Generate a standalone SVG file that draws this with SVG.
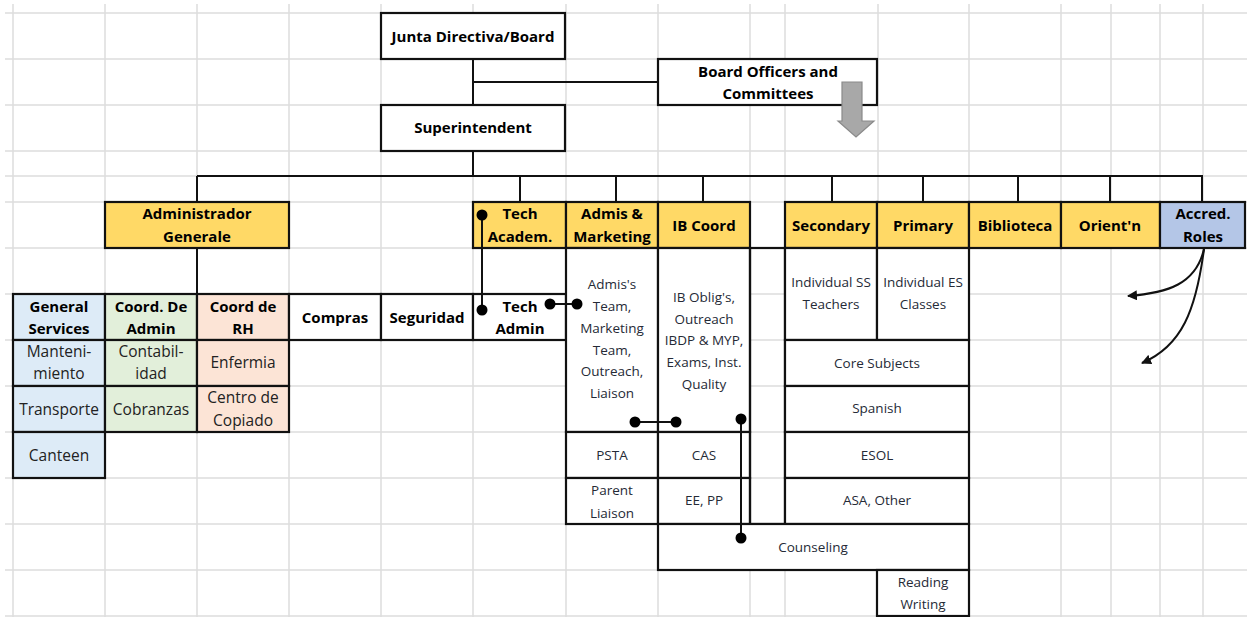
<svg xmlns="http://www.w3.org/2000/svg" width="1247" height="617" viewBox="0 0 1247 617">
<defs>
<style>
.grid line{stroke:#dcdcdc;stroke-width:1.5}
.box{stroke:#111;stroke-width:2.2}
.w{fill:#fff}
.y{fill:#FFD966}
.ab{fill:#B4C6E7}
.lb{fill:#DDEBF7}
.lg{fill:#E2EFDA}
.pe{fill:#FCE4D6}
.b{font-family:"Open Sans","Liberation Sans",sans-serif;font-weight:bold;font-size:15px;fill:#000;text-anchor:middle}
.r{font-family:"Open Sans","Liberation Sans",sans-serif;font-size:13.5px;fill:#252a36;text-anchor:middle}
.rl{font-family:"Open Sans","Liberation Sans",sans-serif;font-size:15.5px;fill:#222;text-anchor:middle}
.conn line,.conn path{stroke:#111;stroke-width:2;fill:none}
.dot{fill:#000}
</style>
<marker id="ah" viewBox="0 0 10 10" refX="9" refY="5" markerWidth="5" markerHeight="5" orient="auto">
<path d="M0,0 L10,5 L0,10 z" fill="#111"/>
</marker>
</defs>
<rect width="1247" height="617" fill="#fff"/>
<g class="grid">
<line x1="13" y1="4" x2="13" y2="617"/>
<line x1="105" y1="4" x2="105" y2="617"/>
<line x1="197" y1="4" x2="197" y2="617"/>
<line x1="289" y1="4" x2="289" y2="617"/>
<line x1="381" y1="4" x2="381" y2="617"/>
<line x1="473" y1="4" x2="473" y2="617"/>
<line x1="566" y1="4" x2="566" y2="617"/>
<line x1="658" y1="4" x2="658" y2="617"/>
<line x1="750" y1="4" x2="750" y2="617"/>
<line x1="785" y1="4" x2="785" y2="617"/>
<line x1="878" y1="4" x2="878" y2="617"/>
<line x1="969" y1="4" x2="969" y2="617"/>
<line x1="1061" y1="4" x2="1061" y2="617"/>
<line x1="1111" y1="4" x2="1111" y2="617"/>
<line x1="1160" y1="4" x2="1160" y2="617"/>
<line x1="1203" y1="4" x2="1203" y2="617"/>
<line x1="5" y1="13" x2="1247" y2="13"/>
<line x1="5" y1="59" x2="1247" y2="59"/>
<line x1="5" y1="105" x2="1247" y2="105"/>
<line x1="5" y1="151" x2="1247" y2="151"/>
<line x1="5" y1="176" x2="1247" y2="176"/>
<line x1="5" y1="202" x2="1247" y2="202"/>
<line x1="5" y1="248" x2="1247" y2="248"/>
<line x1="5" y1="294" x2="1247" y2="294"/>
<line x1="5" y1="340" x2="1247" y2="340"/>
<line x1="5" y1="386" x2="1247" y2="386"/>
<line x1="5" y1="432" x2="1247" y2="432"/>
<line x1="5" y1="478" x2="1247" y2="478"/>
<line x1="5" y1="524" x2="1247" y2="524"/>
<line x1="5" y1="570" x2="1247" y2="570"/>
<line x1="5" y1="616" x2="1247" y2="616"/>
</g>
<g id="connectors" class="conn">
<line x1="473" y1="59" x2="473" y2="105"/>
<line x1="473" y1="82" x2="658" y2="82"/>
<line x1="473" y1="151" x2="473" y2="176"/>
<line x1="197" y1="176" x2="1203" y2="176"/>
<line x1="197" y1="176" x2="197" y2="202"/>
<line x1="520" y1="176" x2="520" y2="202"/>
<line x1="616" y1="176" x2="616" y2="202"/>
<line x1="703" y1="176" x2="703" y2="202"/>
<line x1="832" y1="176" x2="832" y2="202"/>
<line x1="923" y1="176" x2="923" y2="202"/>
<line x1="1018" y1="176" x2="1018" y2="202"/>
<line x1="1110" y1="176" x2="1110" y2="202"/>
<line x1="1202" y1="176" x2="1202" y2="202"/>
<line x1="197" y1="248" x2="197" y2="294"/>
<path d="M1204,249 C1196,284 1168,293 1128,296" marker-end="url(#ah)"/>
<path d="M1204,249 C1196,310 1182,346 1142,363" marker-end="url(#ah)"/>
</g>
<g id="junta"><rect class="box w" x="381" y="13" width="184" height="46"/><text class="b" x="473" y="42">Junta Directiva/Board</text></g>
<g id="officers"><rect class="box w" x="658" y="59" width="219" height="46"/><text class="b" x="768" y="77">Board Officers and</text><text class="b" x="768" y="99">Committees</text></g>
<g id="board-officers-arrow">
<polygon points="842,82 862,82 862,121 874,121 856,137 838,121 842,121" fill="#a8a8a8" stroke="#8a8a8a" stroke-width="1.2"/>
</g>
<g id="superintendent"><rect class="box w" x="381" y="105" width="184" height="46"/><text class="b" x="473" y="133">Superintendent</text></g>
<g id="admin-gen"><rect class="box y" x="105" y="202" width="184" height="46"/><text class="b" x="197" y="219">Administrador</text><text class="b" x="197" y="242">Generale</text></g>
<g id="tech-academ"><rect class="box y" x="473" y="202" width="93" height="46"/><text class="b" x="520" y="219">Tech</text><text class="b" x="520" y="242">Academ.</text></g>
<g id="admis-marketing"><rect class="box y" x="566" y="202" width="92" height="46"/><text class="b" x="612" y="219">Admis &amp;</text><text class="b" x="612" y="242">Marketing</text></g>
<g id="ib-coord"><rect class="box y" x="658" y="202" width="92" height="46"/><text class="b" x="704" y="231">IB Coord</text></g>
<g id="secondary"><rect class="box y" x="785" y="202" width="92" height="46"/><text class="b" x="831" y="231">Secondary</text></g>
<g id="primary"><rect class="box y" x="877" y="202" width="92" height="46"/><text class="b" x="923" y="231">Primary</text></g>
<g id="biblioteca"><rect class="box y" x="969" y="202" width="92" height="46"/><text class="b" x="1015" y="231">Biblioteca</text></g>
<g id="orientn"><rect class="box y" x="1061" y="202" width="99" height="46"/><text class="b" x="1110" y="231">Orient'n</text></g>
<g id="accred"><rect class="box ab" x="1160" y="202" width="85" height="46"/><text class="b" x="1203" y="219">Accred.</text><text class="b" x="1203" y="242">Roles</text></g>
<g id="general-services"><rect class="box lb" x="13" y="294" width="92" height="46"/><text class="b" x="59" y="312">General</text><text class="b" x="59" y="334">Services</text></g>
<g id="coord-admin"><rect class="box lg" x="105" y="294" width="92" height="46"/><text class="b" x="151" y="312">Coord. De</text><text class="b" x="151" y="334">Admin</text></g>
<g id="coord-rh"><rect class="box pe" x="197" y="294" width="92" height="46"/><text class="b" x="243" y="312">Coord de</text><text class="b" x="243" y="334">RH</text></g>
<g id="compras"><rect class="box w" x="289" y="294" width="92" height="46"/><text class="b" x="335" y="323">Compras</text></g>
<g id="seguridad"><rect class="box w" x="381" y="294" width="92" height="46"/><text class="b" x="427" y="323">Seguridad</text></g>
<g id="tech-admin"><rect class="box w" x="473" y="294" width="93" height="46"/><text class="b" x="520" y="312">Tech</text><text class="b" x="520" y="334">Admin</text></g>
<g id="mantenimiento"><rect class="box lb" x="13" y="340" width="92" height="46"/><text class="rl" x="59" y="357">Manteni-</text><text class="rl" x="59" y="379">miento</text></g>
<g id="contabilidad"><rect class="box lg" x="105" y="340" width="92" height="46"/><text class="rl" x="151" y="357">Contabil-</text><text class="rl" x="151" y="379">idad</text></g>
<g id="enfermia"><rect class="box pe" x="197" y="340" width="92" height="46"/><text class="rl" x="243" y="368">Enfermia</text></g>
<g id="transporte"><rect class="box lb" x="13" y="386" width="92" height="46"/><text class="rl" x="59" y="415">Transporte</text></g>
<g id="cobranzas"><rect class="box lg" x="105" y="386" width="92" height="46"/><text class="rl" x="151" y="415">Cobranzas</text></g>
<g id="centro-copiado"><rect class="box pe" x="197" y="386" width="92" height="46"/><text class="rl" x="243" y="403">Centro de</text><text class="rl" x="243" y="426">Copiado</text></g>
<g id="canteen"><rect class="box lb" x="13" y="432" width="92" height="46"/><text class="rl" x="59" y="461">Canteen</text></g>
<g id="admis-team"><rect class="box w" x="566" y="248" width="92" height="184"/>
<text class="r" x="612" y="289">Admis's</text><text class="r" x="612" y="311">Team,</text><text class="r" x="612" y="333">Marketing</text><text class="r" x="612" y="355">Team,</text><text class="r" x="612" y="376">Outreach,</text><text class="r" x="612" y="398">Liaison</text></g>
<g id="ib-team"><rect class="box w" x="658" y="248" width="92" height="184"/>
<text class="r" x="704" y="302">IB Oblig's,</text><text class="r" x="704" y="324">Outreach</text><text class="r" x="704" y="345">IBDP &amp; MYP,</text><text class="r" x="704" y="367">Exams, Inst.</text><text class="r" x="704" y="389">Quality</text></g>
<g id="psta"><rect class="box w" x="566" y="432" width="92" height="46"/><text class="r" x="612" y="460">PSTA</text></g>
<g id="cas"><rect class="box w" x="658" y="432" width="92" height="46"/><text class="r" x="704" y="460">CAS</text></g>
<g id="parent-liaison"><rect class="box w" x="566" y="478" width="92" height="46"/><text class="r" x="612" y="495">Parent</text><text class="r" x="612" y="518">Liaison</text></g>
<g id="ee-pp"><rect class="box w" x="658" y="478" width="92" height="46"/><text class="r" x="704" y="505">EE, PP</text></g>
<g id="gap-col"><rect class="box" fill="none" x="750" y="248" width="35" height="276"/></g>
<g id="ss-teachers"><rect class="box w" x="785" y="248" width="92" height="92"/><text class="r" x="831" y="287">Individual SS</text><text class="r" x="831" y="309">Teachers</text></g>
<g id="es-classes"><rect class="box w" x="877" y="248" width="92" height="92"/><text class="r" x="923" y="287">Individual ES</text><text class="r" x="923" y="309">Classes</text></g>
<g id="core-subjects"><rect class="box w" x="785" y="340" width="184" height="46"/><text class="r" x="877" y="368">Core Subjects</text></g>
<g id="spanish"><rect class="box w" x="785" y="386" width="184" height="46"/><text class="r" x="877" y="413">Spanish</text></g>
<g id="esol"><rect class="box w" x="785" y="432" width="184" height="46"/><text class="r" x="877" y="460">ESOL</text></g>
<g id="asa"><rect class="box w" x="785" y="478" width="184" height="46"/><text class="r" x="877" y="505">ASA, Other</text></g>
<g id="counseling"><rect class="box w" x="658" y="524" width="311" height="46"/><text class="r" x="813" y="552">Counseling</text></g>
<g id="reading-writing"><rect class="box w" x="877" y="570" width="92" height="46"/><text class="r" x="923" y="587">Reading</text><text class="r" x="923" y="609">Writing</text></g>
<g id="dot-links" class="conn">
<line x1="482" y1="215" x2="482" y2="310"/>
<circle class="dot" cx="482" cy="215" r="5.5"/><circle class="dot" cx="482" cy="310" r="5.5"/>
<line x1="550" y1="304" x2="577" y2="304"/>
<circle class="dot" cx="550" cy="304" r="5.5"/><circle class="dot" cx="577" cy="304" r="5.5"/>
<line x1="635" y1="422" x2="676" y2="422"/>
<circle class="dot" cx="635" cy="422" r="5.5"/><circle class="dot" cx="676" cy="422" r="5.5"/>
<line x1="741" y1="419" x2="741" y2="538"/>
<circle class="dot" cx="741" cy="419" r="5.5"/><circle class="dot" cx="741" cy="538" r="5.5"/>
</g>
</svg>
